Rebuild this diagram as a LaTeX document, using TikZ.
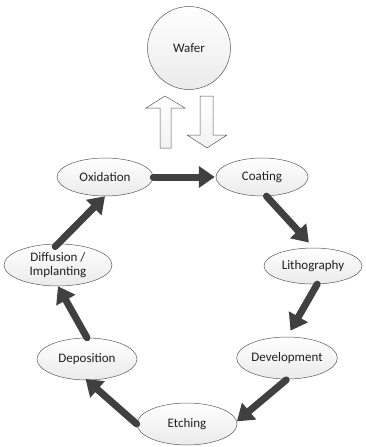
\documentclass[tikz,border=0pt]{standalone}
\usepackage{fontspec}
\setmainfont{Carlito}
\usetikzlibrary{shapes.geometric,arrows.meta}
\begin{document}
\begin{tikzpicture}[x=1pt,y=-1pt,
  stage/.style={ellipse,draw=gray!70!black,line width=0.5pt,top color=white,bottom color=gray!16,
     font=\fontsize{13}{14.5}\selectfont,text=black!88,inner sep=0pt,minimum width=100pt,minimum height=42pt,align=center},
  flow/.style={draw=black!75,line width=7pt,line cap=round,-{Triangle[width=21pt,length=16pt]}},
  hollow/.style={draw=gray!70!black,line width=0.5pt,top color=white,bottom color=gray!10}]
\useasboundingbox (0,0) rectangle (365,447);
\node[circle,draw=gray!70!black,line width=0.5pt,top color=white,bottom color=gray!16,minimum size=83pt,
  font=\fontsize{13}{14.5}\selectfont,text=black!88] (wafer) at (189,48) {Wafer};
\node[stage,minimum width=96pt,minimum height=38pt] (ox) at (105,177) {Oxidation};
\node[stage,minimum width=92pt,minimum height=38pt] (coat) at (262,177) {Coating};
\node[stage,minimum width=98pt,minimum height=36pt] (litho) at (313,266) {Lithography};
\node[stage,minimum width=108pt,minimum height=42pt] (diff) at (58,265) {Diffusion /\\Implanting};
\node[stage] (dep) at (87,359) {Deposition};
\node[stage] (dev) at (287,358) {Development};
\node[stage] (etch) at (187,424) {Etching};
% hollow arrows
\draw[hollow] (160,148) -- (160,108) -- (146,108) -- (165,96) -- (185,108) -- (171,108) -- (171,148) -- cycle;
\draw[hollow] (200,96) -- (213,96) -- (213,135) -- (227,135) -- (207,148) -- (187,135) -- (200,135) -- cycle;
% flow arrows
\draw[flow,shorten >=1pt] (ox.east) -- (coat.west);
\draw[flow,shorten >=7pt] (coat.283) -- (litho.88);
\draw[flow,shorten >=7pt] (litho.283) -- (dev.90);
\draw[flow,shorten <=1pt] (dev.270) -- (etch.3);
\draw[flow,shorten >=-2pt] (etch.180) -- (dep.270);
\draw[flow] (dep.90) -- (diff.270);
\draw[flow,shorten <=-4pt] (diff.90) -- (ox.270);
\end{tikzpicture}
\end{document}
